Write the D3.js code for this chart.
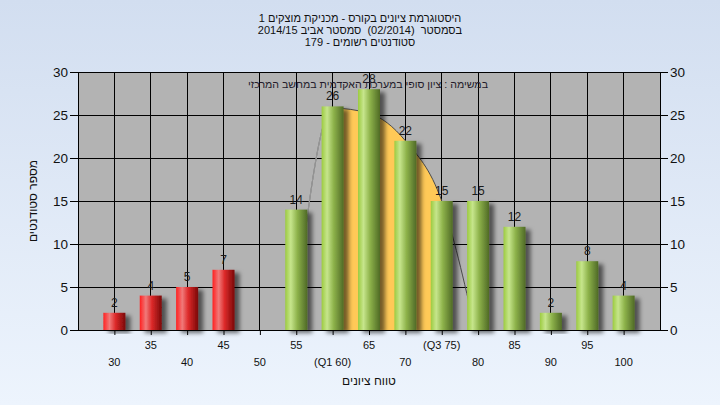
<!DOCTYPE html>
<html><head><meta charset="utf-8">
<script src="https://cdn.jsdelivr.net/npm/d3@7"></script>
<style>
html,body{margin:0;padding:0;}
svg{display:block;font-family:"Liberation Sans",Arial,"DejaVu Sans",sans-serif;}
.pre{white-space:pre;}
</style></head>
<body>
<script>
// ---- data ----
const categories = ["30","35","40","45","50","55","60","65","70","75","80","85","90","95","100"];
const tickLabels = ["30","35","40","45","50","55","(Q1 60)","65","70","(Q3 75)","80","85","90","95","100"];
const counts = [2,4,5,7,0,14,26,28,22,15,15,12,2,8,4];
const failLimit = 50; // grades <= this are red
const curveGrades = [54.6,60,65,70,75,79.6];
const curveValues = [0,25.8,25.2,22,15,0];
const q1 = 60, q3 = 75;
const yTicks = [0,5,10,15,20,25,30];
const titleLines = ["היסטוגרמת ציונים בקורס - מכניקת מוצקים 1","בסמסטר  (02/2014)  סמסטר אביב 2014/15","סטודנטים רשומים - 179"];
const legendText = "במשימה : ציון סופי במערכת האקדמית במחשב המרכזי";
const xTitle = "טווח ציונים";
const yTitle = "מספר סטודנטים";

const W=720,H=405, L=78,R=660,T=72,B=330;

const svg=d3.select("body").append("svg").attr("width",W).attr("height",H);
const defs=svg.append("defs");
const bg=defs.append("linearGradient").attr("id","bg").attr("x1",0).attr("y1",0).attr("x2",0).attr("y2",1);
bg.append("stop").attr("offset","0%").attr("stop-color","#d2def0");
bg.append("stop").attr("offset","100%").attr("stop-color","#edf4fd");
const gr=defs.append("linearGradient").attr("id","gRed");
[["0%","#ff2020"],["28%","#f07a7a"],["55%","#dd2a2a"],["100%","#7a0808"]].forEach(s=>gr.append("stop").attr("offset",s[0]).attr("stop-color",s[1]));
const gg=defs.append("linearGradient").attr("id","gGreen");
[["0%","#9ccb40"],["25%","#c6e58c"],["55%","#8db24a"],["100%","#4f6a26"]].forEach(s=>gg.append("stop").attr("offset",s[0]).attr("stop-color",s[1]));
const f=defs.append("filter").attr("id","sh").attr("x","-50%").attr("y","-20%").attr("width","200%").attr("height","140%");
f.append("feDropShadow").attr("dx",5).attr("dy",3).attr("stdDeviation",2.2).attr("flood-color","#000").attr("flood-opacity",0.55);

svg.append("rect").attr("width",W).attr("height",H).attr("fill","url(#bg)");

const x=d3.scalePoint().domain(categories).range([L,R]).padding(1);
const gx=d3.scaleLinear().domain([25,105]).range([L,R]);
const y=d3.scaleLinear().domain([0,30]).range([B,T]);

svg.append("rect").attr("x",L).attr("y",T).attr("width",R-L).attr("height",B-T).attr("fill","#b3b3b3");

// grid
svg.append("g").selectAll("line").data(yTicks).join("line")
  .attr("x1",L).attr("x2",R).attr("y1",d=>y(d)).attr("y2",d=>y(d)).attr("stroke","#000").attr("stroke-width",1).attr("shape-rendering","crispEdges");
svg.append("g").selectAll("line").data(categories).join("line")
  .attr("x1",d=>x(d)).attr("x2",d=>x(d)).attr("y1",T).attr("y2",B).attr("stroke","#000").attr("shape-rendering","crispEdges");

// curve + area between Q1 and Q3
const pts=curveGrades.map((g,i)=>({g,v:curveValues[i]}));
const line=d3.line().x(d=>gx(d.g)).y(d=>y(d.v)).curve(d3.curveMonotoneX);
const curveG=svg.append("g");
const areaEl=curveG.append("path");
const pathEl=curveG.append("path").attr("d",line(pts)).attr("fill","none").attr("stroke","#4a4a4a").attr("stroke-width",1);
const node=pathEl.node(), len=node.getTotalLength();
const samp=[], leftPts=[];
for(let i=0;i<=400;i++){
  const p=node.getPointAtLength(len*i/400);
  if(p.x>=gx(q1)&&p.x<=gx(q3)) samp.push(p);
  if(p.x<=gx(q1)) leftPts.push(p);
}
areaEl.attr("d",d3.area().x(d=>d.x).y0(B).y1(d=>d.y)(samp)).attr("fill","#ffc957");
// lighter rising flank
curveG.append("path").attr("d",d3.line().x(d=>d.x).y(d=>d.y)(leftPts)).attr("fill","none").attr("stroke","#b3b3b3").attr("stroke-width",1.2);
curveG.append("path").attr("d",d3.line().x(d=>d.x).y(d=>d.y)(leftPts)).attr("fill","none").attr("stroke","#8c8c8c").attr("stroke-width",1);

// bars
const bw=22;
const bars=categories.map((c,i)=>({c,v:counts[i]})).filter(d=>d.v>0);
svg.append("g").selectAll("rect").data(bars).join("rect")
  .attr("x",d=>x(d.c)-bw/2).attr("width",bw).attr("y",d=>y(d.v)).attr("height",d=>B-y(d.v))
  .attr("fill",d=>(+d.c<=failLimit)?"url(#gRed)":"url(#gGreen)").attr("filter","url(#sh)");
svg.append("g").selectAll("text").data(bars).join("text")
  .attr("x",d=>x(d.c)).attr("y",d=>y(d.v)-6).attr("text-anchor","middle").attr("font-size",12).attr("fill","#1a1a1a").text(d=>d.v);

// axes
const ya=svg.append("g").attr("transform",`translate(${L},0)`).call(d3.axisLeft(y).tickValues(yTicks).tickSize(8).tickPadding(2));
const yb=svg.append("g").attr("transform",`translate(${R},0)`).call(d3.axisRight(y).tickValues(yTicks).tickSize(8).tickPadding(2));
[ya,yb].forEach(g=>{g.selectAll("text").attr("font-size",13.5).attr("fill","#111").attr("font-family","Liberation Sans, Arial, sans-serif");g.selectAll("line,path").attr("stroke","#000");});
const xa=svg.append("g").attr("transform",`translate(0,${B})`).call(d3.axisBottom(x).tickSize(5).tickFormat(""));
xa.select(".domain").attr("d",`M${L},0.5H${R}`).attr("stroke","#000");
xa.selectAll("line").attr("stroke","#000");
svg.append("g").selectAll("text").data(categories).join("text")
  .attr("x",d=>x(d)).attr("y",(d,i)=>i%2?349:366).attr("text-anchor","middle").attr("font-size",11).attr("fill","#111")
  .text((d,i)=>tickLabels[i]);

// titles
svg.append("g").selectAll("text").data(titleLines).join("text").attr("class","pre")
  .attr("x",360).attr("y",(d,i)=>22+i*12).attr("text-anchor","middle").attr("direction","rtl").attr("font-size",11).attr("fill","#111").text(d=>d);
svg.append("text").attr("x",488).attr("y",88).attr("text-anchor","end").attr("font-size",10.6).attr("fill","#221a2a").text(legendText);
svg.append("text").attr("x",(L+R)/2).attr("y",385).attr("text-anchor","middle").attr("direction","rtl").attr("font-size",12).attr("fill","#111").text(xTitle);
svg.append("text").attr("transform",`translate(37,${(T+B)/2}) rotate(-90)`).attr("text-anchor","middle").attr("direction","rtl").attr("font-size",12).attr("fill","#111").text(yTitle);
</script>
</body></html>
